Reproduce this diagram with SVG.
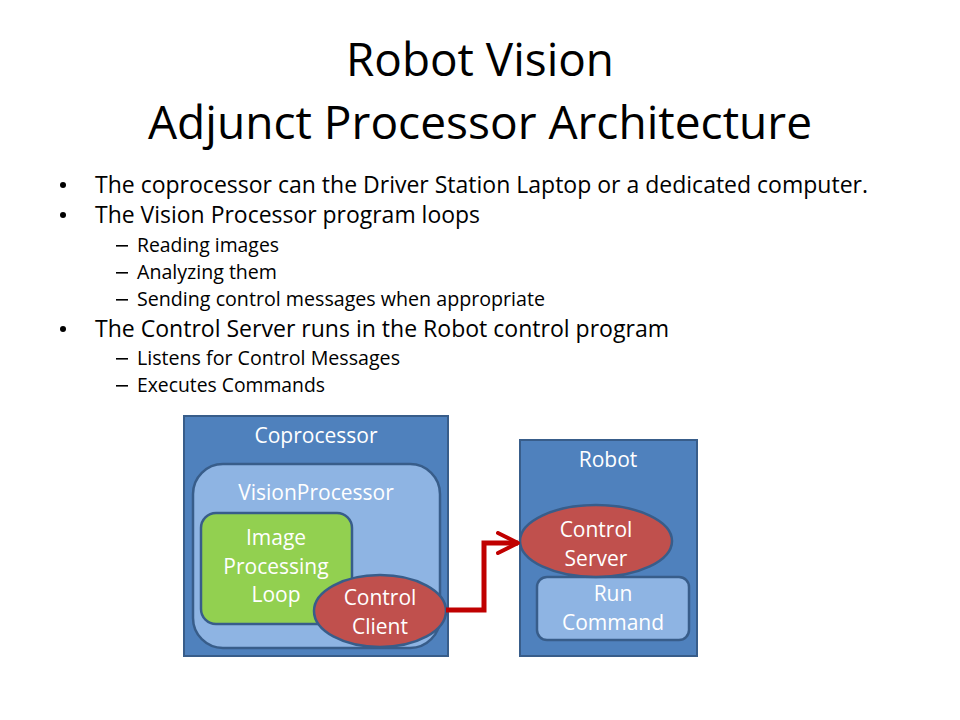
<svg xmlns="http://www.w3.org/2000/svg" width="960" height="720" viewBox="0 0 960 720">
<style>
text{font-family:"Open Sans","Liberation Sans",sans-serif}
.title{font-size:45px;fill:#000;text-anchor:middle}
.b1{font-size:23.5px;fill:#000}
.b2{font-size:20px;fill:#000}
.lbl{font-size:21px;fill:#fff;text-anchor:middle}
.outer{fill:#4f81bd;stroke:#385d8a;stroke-width:2}
.light{fill:#8eb4e3;stroke:#385d8a;stroke-width:2.5}
.green{fill:#92d050;stroke:#385d8a;stroke-width:2.5}
.red{fill:#c0504d;stroke:#385d8a;stroke-width:2.5}
.conn{fill:none;stroke:#c00000;stroke-width:5}
</style>
<defs>
<marker id="arr" viewBox="0 0 10 10" refX="9" refY="5" markerWidth="5" markerHeight="5" markerUnits="strokeWidth" orient="auto">
<path d="M1,1 L9,5 L1,9" fill="none" stroke="#c00000" stroke-width="1.6" stroke-linecap="round" stroke-linejoin="round"/>
</marker>
</defs>
<rect width="960" height="720" fill="#fff"/>
<g id="title">
<text class="title" x="480" y="76" textLength="268" lengthAdjust="spacingAndGlyphs">Robot Vision</text>
<text class="title" x="480" y="139" textLength="664" lengthAdjust="spacingAndGlyphs">Adjunct Processor Architecture</text>
</g>
<g id="bullets">
<circle cx="63" cy="185" r="3" fill="#000"/>
<text class="b1" x="95" y="193" textLength="773" lengthAdjust="spacingAndGlyphs">The coprocessor can the Driver Station Laptop or a dedicated computer.</text>
<circle cx="63" cy="215" r="3" fill="#000"/>
<text class="b1" x="95" y="223" textLength="385" lengthAdjust="spacingAndGlyphs">The Vision Processor program loops</text>
<rect x="116" y="245" width="12" height="1.6" fill="#000"/>
<text class="b2" x="137" y="252" textLength="142" lengthAdjust="spacingAndGlyphs">Reading images</text>
<rect x="116" y="272" width="12" height="1.6" fill="#000"/>
<text class="b2" x="137" y="279" textLength="140" lengthAdjust="spacingAndGlyphs">Analyzing them</text>
<rect x="116" y="299" width="12" height="1.6" fill="#000"/>
<text class="b2" x="137" y="306" textLength="408" lengthAdjust="spacingAndGlyphs">Sending control messages when appropriate</text>
<circle cx="63" cy="329" r="3" fill="#000"/>
<text class="b1" x="95" y="337" textLength="574" lengthAdjust="spacingAndGlyphs">The Control Server runs in the Robot control program</text>
<rect x="116" y="358" width="12" height="1.6" fill="#000"/>
<text class="b2" x="137" y="365" textLength="263" lengthAdjust="spacingAndGlyphs">Listens for Control Messages</text>
<rect x="116" y="385" width="12" height="1.6" fill="#000"/>
<text class="b2" x="137" y="392" textLength="188" lengthAdjust="spacingAndGlyphs">Executes Commands</text>
</g>
<g id="coprocessor">
<rect class="outer" x="184" y="416" width="264" height="240"/>
<text class="lbl" x="316" y="443">Coprocessor</text>
</g>
<g id="visionprocessor">
<rect class="light" x="193" y="464" width="247" height="184" rx="30"/>
<text class="lbl" x="316" y="500">VisionProcessor</text>
</g>
<g id="imageloop">
<rect class="green" x="201" y="513" width="151" height="111" rx="15"/>
<text class="lbl" x="276" y="545">Image</text>
<text class="lbl" x="276" y="574">Processing</text>
<text class="lbl" x="276" y="602">Loop</text>
</g>
<g id="controlclient">
<ellipse class="red" cx="380" cy="611" rx="66" ry="36"/>
<text class="lbl" x="380" y="605">Control</text>
<text class="lbl" x="380" y="634">Client</text>
</g>
<g id="robot">
<rect class="outer" x="520" y="440" width="177" height="216"/>
<text class="lbl" x="608" y="467">Robot</text>
</g>
<g id="runcommand">
<rect class="light" x="537" y="577" width="152" height="63" rx="10"/>
<text class="lbl" x="613" y="601">Run</text>
<text class="lbl" x="613" y="630">Command</text>
</g>
<g id="controlserver">
<ellipse class="red" cx="596" cy="541" rx="76" ry="36"/>
<text class="lbl" x="596" y="537">Control</text>
<text class="lbl" x="596" y="566">Server</text>
</g>
<g id="connectors">
<path class="conn" d="M446,610 H484 V543 H518" marker-end="url(#arr)"/>
</g>
</svg>
